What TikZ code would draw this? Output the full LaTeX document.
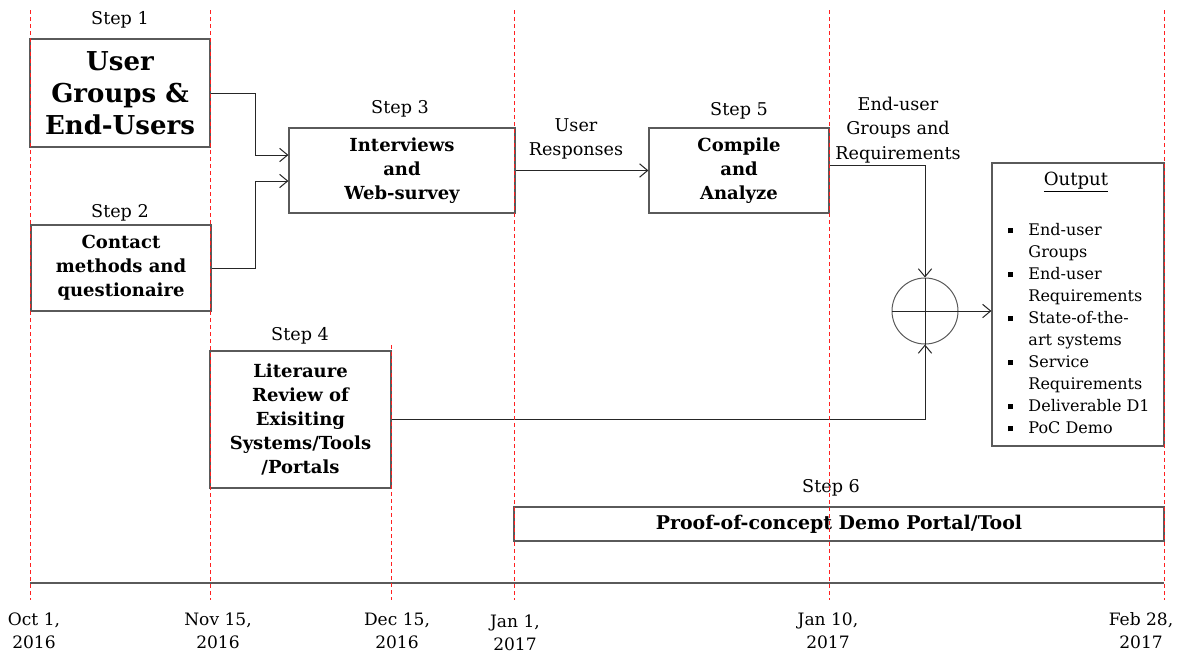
\documentclass[tikz,border=0pt]{standalone}
\usepackage{fontspec}
\setmainfont{DejaVu Serif}
\usetikzlibrary{arrows.meta}
\definecolor{boxgray}{HTML}{5A5A5A}
\definecolor{guidered}{HTML}{FF2020}
\newcommand\sqb{\rule[1.6pt]{3.75pt}{3.75pt}}
\begin{document}
\begin{tikzpicture}[x=0.75pt,y=-0.75pt,
  box/.style={draw=boxgray,line width=0.9pt,inner sep=0pt,align=center,font=\bfseries\fontsize{13.5}{18}\selectfont},
  lbl/.style={font=\fontsize{13.2}{18.4}\selectfont,align=center,inner sep=0pt},
  datelbl/.style={font=\fontsize{12.8}{17.25}\selectfont,align=center,inner sep=0pt},
  conn/.style={draw=black!85,line width=0.75pt},
  arr/.style={conn,-{Straight Barb[length=6pt,width=10pt]}},
  guide/.style={draw=guidered,dash pattern=on 3pt off 2.25pt,line width=0.6pt}
]
\useasboundingbox (0,0) rectangle (1179,657);

% boxes
\node[box,minimum width=135pt,minimum height=81pt,font=\bfseries\fontsize{19.5}{24}\selectfont] (s1) at (120,93) {User\\Groups \&\\End-Users};
\node[box,minimum width=135pt,minimum height=64.5pt] (s2) at (121,268) {Contact\\methods and\\questionaire};
\node[box,minimum width=169.5pt,minimum height=63.75pt] (s3) at (402,170.5) {Interviews\\and\\Web-survey};
\node[box,minimum width=135pt,minimum height=63.75pt] (s5) at (739,170.5) {Compile\\and\\Analyze};
\node[box,minimum width=135.75pt,minimum height=102.75pt] (s4) at (300.5,419.5) {Literaure\\Review of\\Exisiting\\Systems/Tools\\/Portals};
\node[box,minimum width=487.5pt,minimum height=25.5pt,font=\bfseries\fontsize{14.2}{16}\selectfont] (s6) at (839,524) {Proof-of-concept Demo Portal/Tool};
\node[box,minimum width=129pt,minimum height=212.25pt] (out) at (1078,304.5) {};
\node[lbl,font=\fontsize{13.6}{18}\selectfont] (outt) at (1076,182) {\underline{Output}};
\node[lbl,align=left,anchor=north west,font=\fontsize{12}{16.5}\selectfont] (outl) at (1008,223) {%
\sqb\hspace{11.4pt}End-user\\\hspace{15.15pt}Groups\\
\sqb\hspace{11.4pt}End-user\\\hspace{15.15pt}Requirements\\
\sqb\hspace{11.4pt}State-of-the-\\\hspace{15.15pt}art systems\\
\sqb\hspace{11.4pt}Service\\\hspace{15.15pt}Requirements\\
\sqb\hspace{11.4pt}Deliverable D1\\
\sqb\hspace{11.4pt}PoC Demo};
\node[draw=boxgray,circle,minimum size=49.5pt,inner sep=0pt,line width=0.75pt] (circ) at (925,311) {};

% step labels
\node[lbl] (st1) at (120,20) {Step 1};
\node[lbl] (st2) at (120,213) {Step 2};
\node[lbl] (st3) at (400,109) {Step 3};
\node[lbl] (st4) at (300,336) {Step 4};
\node[lbl] (st5) at (739,111) {Step 5};
\node[lbl] (st6) at (831,488) {Step 6};
\node[lbl] (ur) at (576,139) {User\\Responses};
\node[lbl] (eg) at (898,130) {End-user\\Groups and\\Requirements};

% connectors
\coordinate (j1) at (255,155);
\coordinate (j2) at (255,181);
\draw[arr] (s1.east) -| (j1) -- (j1 -| s3.west);
\draw[arr] (s2.east) -| (j2) -- (j2 -| s3.west);
\draw[arr] (s3.east) -- (s5.west);
\draw[arr] ([yshift=3.4pt]s5.east) -| (circ.north);
\draw[arr] (s4.east) -| (circ.south);
\draw[conn] (circ.north) -- (circ.south);
\draw[conn] (circ.west) -- (circ.east);
\draw[arr] (circ.east) -- (circ.east -| out.west);

% time axis
\draw[draw=boxgray,line width=1.1pt] (30,583) -- (1164,583);
\draw[guide] (30,10) -- (30,600);
\draw[guide] (210,10) -- (210,600);
\draw[guide] (391,345) -- (391,600);
\draw[guide] (514,10) -- (514,600);
\draw[guide] (829,10) -- (829,600);
\draw[guide] (1164,10) -- (1164,600);

% dates
\node[datelbl] (d1) at (34,631) {Oct 1,\\2016};
\node[datelbl] (d2) at (218,631) {Nov 15,\\2016};
\node[datelbl] (d3) at (397,631) {Dec 15,\\2016};
\node[datelbl] (d4) at (515,633) {Jan 1,\\2017};
\node[datelbl] (d5) at (828,631) {Jan 10,\\2017};
\node[datelbl] (d6) at (1141,631) {Feb 28,\\2017};
\end{tikzpicture}
\end{document}
